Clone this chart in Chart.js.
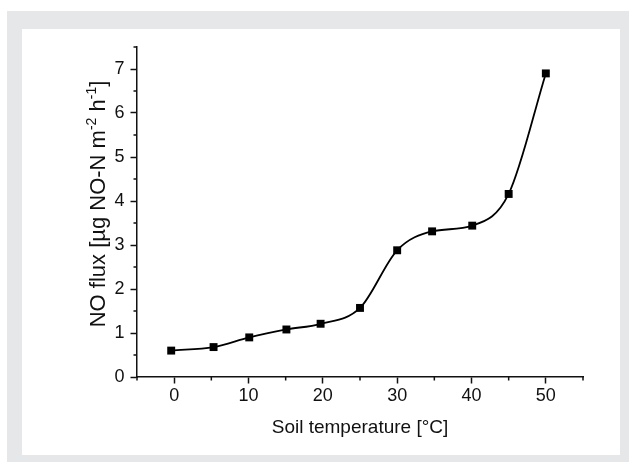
<!DOCTYPE html>
<html>
<head>
<meta charset="utf-8">
<script src="https://cdn.jsdelivr.net/npm/chart.js@4/dist/chart.umd.min.js"></script>
<style>
    body { margin: 0; background: #ffffff; }
    #frame { position: absolute; left: 7px; top: 11px; width: 622px; height: 451px; background: #e6e7e8; }
    #panel { position: absolute; left: 22px; top: 29px; width: 598px; height: 426px; background: #ffffff; }
    #wrap { position: absolute; left: 0; top: 0; width: 629px; height: 462px; }
</style>
</head>
<body>
<div id="frame"></div>
<div id="panel"></div>
<div id="wrap"><canvas id="myChart" width="629" height="462"></canvas></div>
<script>
// soil temperature (°C) and NO flux
const temperatures = [-0.4, 5.3, 10.1, 15.1, 19.7, 25.0, 30.0, 34.7, 40.1, 45.0, 50.0];
const noFlux = [0.6, 0.68, 0.9, 1.08, 1.21, 1.57, 2.88, 3.31, 3.44, 4.16, 6.9];

// axis ticks
const xMajorTicks = [0, 10, 20, 30, 40, 50];
const xMinorTicks = [-5, 5, 15, 25, 35, 45, 55];
const yMajorTicks = [0, 1, 2, 3, 4, 5, 6, 7];
const yMinorTicks = [0.5, 1.5, 2.5, 3.5, 4.5, 5.5, 6.5, 7.5];

const xTitle = "Soil temperature [°C]";
const yTitleParts = [
    { text: "NO flux [µg NO-N m", sup: false },
    { text: "-2", sup: true },
    { text: " h", sup: false },
    { text: "-1", sup: true },
    { text: "]", sup: false },
];

const FONT = "'Liberation Sans', Arial, sans-serif";
const INK = "#111111";

// minor ticks + y title with real superscripts
const extras = {
    id: "extras",
    afterDraw(chart) {
        const ctx = chart.ctx;
        const xs = chart.scales.x;
        const ys = chart.scales.y;
        const area = chart.chartArea;
        ctx.save();
        ctx.strokeStyle = INK;
        ctx.lineWidth = 1.5;
        ctx.beginPath();
        xMinorTicks.forEach((v) => {
            const px = xs.getPixelForValue(v);
            ctx.moveTo(px, area.bottom);
            ctx.lineTo(px, area.bottom + 3.5);
        });
        yMinorTicks.forEach((v) => {
            const py = ys.getPixelForValue(v);
            ctx.moveTo(area.left - 3.5, py);
            ctx.lineTo(area.left, py);
        });
        // y axis runs a little past the origin
        ctx.moveTo(area.left, area.bottom);
        ctx.lineTo(area.left, area.bottom + 2);
        ctx.stroke();

        // y title
        const mainFont = "22px " + FONT;
        const supFont = "14px " + FONT;
        let total = 0;
        yTitleParts.forEach((p) => {
            ctx.font = p.sup ? supFont : mainFont;
            p.w = ctx.measureText(p.text).width;
            total += p.w;
        });
        ctx.translate(105, 204);
        ctx.rotate(-Math.PI / 2);
        ctx.fillStyle = INK;
        ctx.textBaseline = "alphabetic";
        let pos = -total / 2;
        yTitleParts.forEach((p) => {
            ctx.font = p.sup ? supFont : mainFont;
            ctx.fillText(p.text, pos, p.sup ? -9 : 0);
            pos += p.w;
        });
        ctx.restore();
    },
};

const points = temperatures.map((t, i) => ({ x: t, y: noFlux[i] }));

new Chart(document.getElementById("myChart"), {
    type: "scatter",
    data: {
        datasets: [
            {
                data: points,
                showLine: true,
                borderColor: "#000000",
                borderWidth: 1.8,
                cubicInterpolationMode: "monotone",
                pointStyle: "rect",
                pointRadius: 5.6,
                pointBackgroundColor: "#000000",
                pointBorderWidth: 0,
            },
        ],
    },
    options: {
        responsive: false,
        animation: false,
        layout: { padding: { left: 0, top: 47, right: 46, bottom: 0 } },
        plugins: {
            legend: { display: false },
            tooltip: { enabled: false },
        },
        scales: {
            x: {
                type: "linear",
                min: -5,
                max: 55,
                afterBuildTicks: (scale) => {
                    scale.ticks = xMajorTicks.map((v) => ({ value: v }));
                },
                afterFit: (scale) => {
                    scale.height = 85;
                },
                grid: {
                    drawOnChartArea: false,
                    tickLength: 6.5,
                    tickColor: INK,
                    tickWidth: 1.5,
                },
                border: { color: INK, width: 1.5 },
                ticks: {
                    autoSkip: false,
                    maxRotation: 0,
                    padding: 2,
                    color: INK,
                    font: { family: FONT, size: 18 },
                },
                title: {
                    display: true,
                    text: xTitle,
                    color: INK,
                    font: { family: FONT, size: 19 },
                    padding: { top: 0, bottom: 23 },
                },
            },
            y: {
                type: "linear",
                min: 0,
                max: 7.5,
                afterBuildTicks: (scale) => {
                    scale.ticks = yMajorTicks.map((v) => ({ value: v }));
                },
                afterFit: (scale) => {
                    scale.width = 137;
                },
                grid: {
                    drawOnChartArea: false,
                    tickLength: 6.5,
                    tickColor: INK,
                    tickWidth: 1.5,
                },
                border: { color: INK, width: 1.5 },
                ticks: {
                    autoSkip: false,
                    padding: 6,
                    color: INK,
                    font: { family: FONT, size: 18 },
                },
            },
        },
    },
    plugins: [extras],
});
</script>
</body>
</html>
